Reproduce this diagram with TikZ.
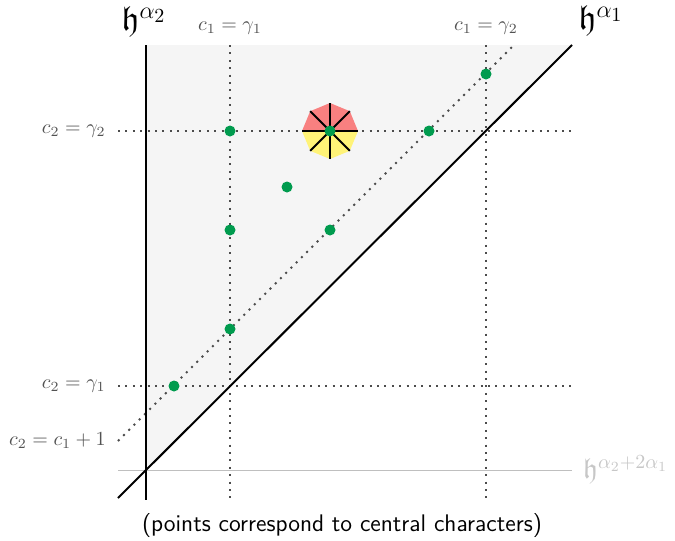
\documentclass[tikz,border=0pt]{standalone}
\usepackage{amssymb}
\usetikzlibrary{calc}
\definecolor{dotgreen}{RGB}{0,155,78}
\definecolor{octred}{RGB}{248,128,128}
\definecolor{octyellow}{RGB}{255,243,120}
\begin{document}
\begin{tikzpicture}[x=0.5pt,y=-0.5pt,
  axisline/.style={line width=1pt,black},
  dotline/.style={line width=1pt,black!70,dash pattern=on 1pt off 2.7pt},
  pt/.style={circle,fill=dotgreen,inner sep=0pt,minimum size=5.5pt},
  lab/.style={black!68,font=\normalsize},
  hlab/.style={font=\LARGE,inner sep=0pt}]
\useasboundingbox (0,0) rectangle (675,541);
% shaded region
\fill[black!4] (146,470) -- (146,45) -- (572,45) -- cycle;
% gray line
\draw[black!25,line width=0.5pt] (118,470) -- (572,470);
\node[black!22,font=\Large,anchor=west] (h3) at (576,470) {$\mathfrak{h}^{\alpha_2+2\alpha_1}$};
% dotted lines
\draw[dotline] (230,45) -- (230,500);
\draw[dotline] (486,45) -- (486,500);
\draw[dotline] (118,131) -- (572,131);
\draw[dotline] (118,386) -- (572,386);
\draw[dotline] (118,441) -- (514,45);
% axes
\draw[axisline] (146,45) -- (146,500);
\draw[axisline] (118,498) -- (572,45);
% labels
\node[hlab] (h2) at (144,22) {$\mathfrak{h}^{\alpha_2}$};
\node[hlab] (h1) at (601,21) {$\mathfrak{h}^{\alpha_1}$};
\node[lab] (l1) at (230,28) {$c_1=\gamma_1$};
\node[lab] (l2) at (486,28) {$c_1=\gamma_2$};
\node[lab,anchor=east,inner sep=0pt] (l3) at (106,131) {$c_2=\gamma_2$};
\node[lab,anchor=east,inner sep=0pt] (l4) at (106,386) {$c_2=\gamma_1$};
\node[lab,anchor=east,inner sep=0pt] (l5) at (106,441) {$c_2=c_1+1$};
\node[font=\sffamily\large] (cap) at (342,526) {(points correspond to central characters)};
% octagon (y axis flipped: angles 180..360 point upward)
\coordinate (o) at (330,131);
\fill[octred] ($(o)+(180:28)$) -- ($(o)+(225:28)$) -- ($(o)+(270:28)$) -- ($(o)+(315:28)$) -- ($(o)+(0:28)$) -- cycle;
\fill[octyellow] ($(o)+(180:28)$) -- ($(o)+(135:28)$) -- ($(o)+(90:28)$) -- ($(o)+(45:28)$) -- ($(o)+(0:28)$) -- cycle;
\foreach \a in {0,45,...,315} \draw[line width=1pt] (o) -- ($(o)+(\a:28)$);
% points
\node[pt] (p1) at (230,131) {};
\node[pt] (p2) at (330,131) {};
\node[pt] (p3) at (287,187) {};
\node[pt] (p4) at (230,230) {};
\node[pt] (p5) at (330,230) {};
\node[pt] (p6) at (230,329) {};
\node[pt] (p7) at (174,386) {};
\node[pt] (p8) at (429,131) {};
\node[pt] (p9) at (486,74) {};
\end{tikzpicture}
\end{document}
